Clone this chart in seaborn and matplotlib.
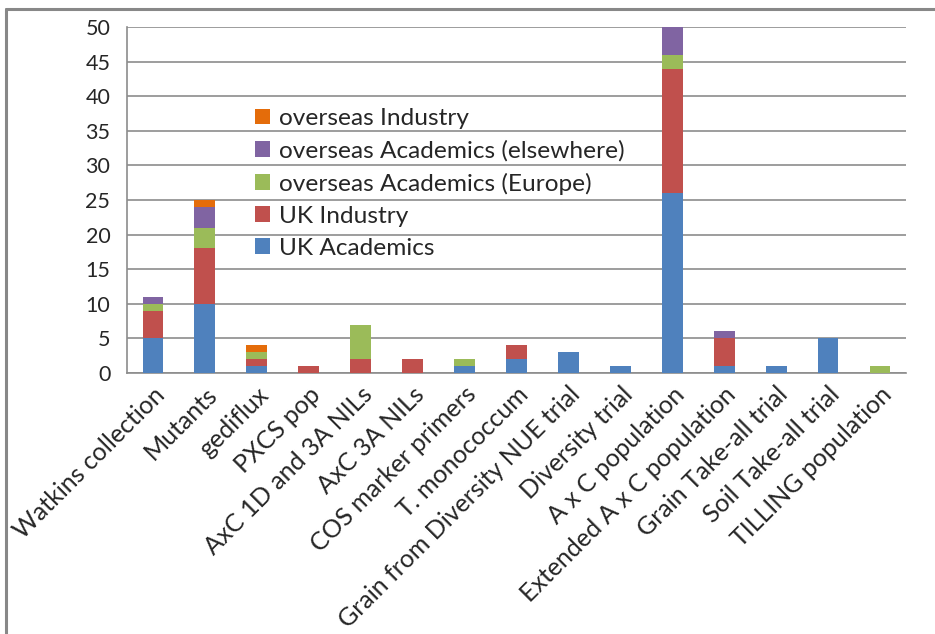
import numpy as np
import matplotlib
matplotlib.use("Agg")
import matplotlib.pyplot as plt
from matplotlib.lines import Line2D
import seaborn as sns

categories = ['Watkins collection', 'Mutants', 'gediflux', 'PXCS pop',
              'AxC 1D and 3A NILs', 'AxC 3A NILs', 'COS marker primers',
              'T. monococcum', 'Grain from Diversity NUE trial', 'Diversity trial',
              'A x C population', 'Extended A x C population', 'Grain Take-all trial',
              'Soil Take-all trial', 'TILLING population']
uk_academics = [5, 10, 1, 0, 0, 0, 1, 2, 3, 1, 26, 1, 1, 5, 0]
uk_industry = [4, 8, 1, 1, 2, 2, 0, 2, 0, 0, 18, 4, 0, 0, 0]
os_acad_europe = [1, 3, 1, 0, 5, 0, 1, 0, 0, 0, 2, 0, 0, 0, 1]
os_acad_elsewhere = [1, 3, 0, 0, 0, 0, 0, 0, 0, 0, 4, 1, 0, 0, 0]
os_industry = [0, 1, 1, 0, 0, 0, 0, 0, 0, 0, 0, 0, 0, 0, 0]

series = [('UK Academics', uk_academics, '#4F81BD'),
          ('UK Industry', uk_industry, '#C0504D'),
          ('overseas Academics (Europe)', os_acad_europe, '#9BBB59'),
          ('overseas Academics (elsewhere)', os_acad_elsewhere, '#8064A2'),
          ('overseas Industry', os_industry, '#E46C0A')]

sns.set_style('white')
plt.rcParams['font.family'] = ['Lato', 'DejaVu Sans']

fig = plt.figure(figsize=(9.35, 6.34), dpi=100)
ax = fig.add_axes([0.1358, 0.4117, 0.969 - 0.1358, 0.9574 - 0.4117])

# stacked bars: draw cumulative totals from the top layer down
cum = np.cumsum([np.array(s[1]) for s in series], axis=0)
for i in range(len(series) - 1, -1, -1):
    name, _, col = series[i]
    sns.barplot(x=categories, y=cum[i], color=col, saturation=1, width=0.4,
                label=name, ax=ax, zorder=3, linewidth=0)

ax.set_xlim(-0.5, len(categories) - 0.5)
ax.set_ylim(0, 50)
ax.set_yticks(np.arange(0, 51, 5))
ax.yaxis.grid(True, color='#8C8C8C', linewidth=1.2, zorder=0)
ax.set_axisbelow(True)

for s in ['top', 'right']:
    ax.spines[s].set_visible(False)
for s in ['left', 'bottom']:
    ax.spines[s].set_color('#8C8C8C')
    ax.spines[s].set_linewidth(1.2)

ax.set_xticks(np.arange(-0.5, len(categories), 1), minor=True)
ax.tick_params(axis='x', which='major', length=0, labelsize=18, pad=7)
ax.tick_params(axis='x', which='minor', length=6, color='#8C8C8C', width=1.2)
ax.tick_params(axis='y', length=6, color='#8C8C8C', width=1.2, labelsize=15.5, pad=6)
ax.set_xticklabels(categories, rotation=45, ha='right', rotation_mode='anchor')
ax.set_xlabel('')
ax.set_ylabel('')

handles, labels = ax.get_legend_handles_labels()
ax.legend(handles, labels, loc='upper left', bbox_to_anchor=(255 / 935, 1 - 108 / 634),
          bbox_transform=fig.transFigure, frameon=False, fontsize=17.6,
          handlelength=0.6, handleheight=0.6, handletextpad=0.4,
          labelspacing=0.45, borderpad=0, borderaxespad=0)

# outer chart border (top and left visible)
fig.add_artist(Line2D([6 / 935, 1], [1 - 9 / 634, 1 - 9 / 634], color='#888888', lw=2.2))
fig.add_artist(Line2D([6 / 935, 6 / 935], [0, 1 - 9 / 634], color='#888888', lw=2.2))

fig.savefig('out.png', dpi=100)
